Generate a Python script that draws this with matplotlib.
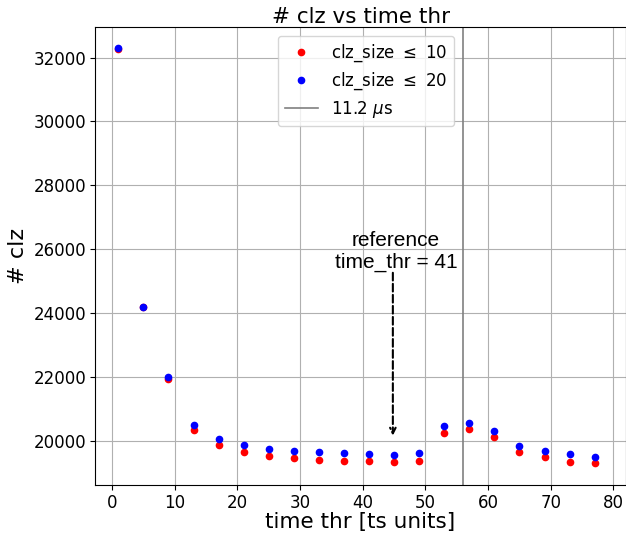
import matplotlib

matplotlib.use("Agg")
import matplotlib.pyplot as plt

# time threshold scan (ts units)
time_thr = [1, 5, 9, 13, 17, 21, 25, 29, 33, 37, 41, 45, 49, 53, 57, 61, 65, 69, 73, 77]
clz_le10 = [32280, 24190, 21940, 20350, 19880, 19640, 19530, 19455, 19400, 19380,
            19360, 19340, 19380, 20255, 20370, 20115, 19665, 19485, 19340, 19295]
clz_le20 = [32290, 24200, 22010, 20495, 20075, 19865, 19740, 19695, 19645, 19620,
            19600, 19560, 19620, 20465, 20560, 20325, 19855, 19675, 19580, 19505]
line_thr = 56  # 11.2 us
ref_x = 44.8
ref_label = "reference\ntime_thr = 41"

fig = plt.figure(figsize=(6.26, 5.33), dpi=100)
ax = fig.add_axes([0.152, 0.090, 0.848, 0.859])

ax.plot(time_thr, clz_le10, "o", color="red", markersize=4.5, label=r"clz_size $\leq$ 10")
ax.plot(time_thr, clz_le20, "o", color="blue", markersize=4.5, label=r"clz_size $\leq$ 20")
ax.axvline(line_thr, color="gray", lw=1.2, label=r"11.2 $\mu$s")

# dashed arrow pointing at the reference threshold
ax.annotate("", xy=(ref_x, 20080), xytext=(ref_x, 25350),
            arrowprops=dict(arrowstyle="->", color="black", lw=1.5, ls="--"))
ax.text(ref_x + 0.5, 25300, ref_label, ha="center", va="bottom", fontsize=15,
        family="Liberation Sans", linespacing=1.15)

ax.set_xlim(-2.7, 82.0)
ax.set_ylim(18620, 32950)
ax.set_xticks(range(0, 81, 10))
ax.set_yticks(range(20000, 32001, 2000))
ax.tick_params(labelsize=12, pad=3)
ax.grid(True, color="#b0b0b0", lw=0.8)
ax.set_xlabel("time thr [ts units]", fontsize=15.5, labelpad=0)
ax.set_ylabel("# clz", fontsize=16)
ax.set_title("# clz vs time thr", fontsize=15.5, pad=3)
ax.legend(loc="upper center", bbox_to_anchor=(0.51, 1.0), fontsize=12, numpoints=1,
          labelspacing=0.4, borderpad=0.4)

fig.savefig("out.png", dpi=100)
